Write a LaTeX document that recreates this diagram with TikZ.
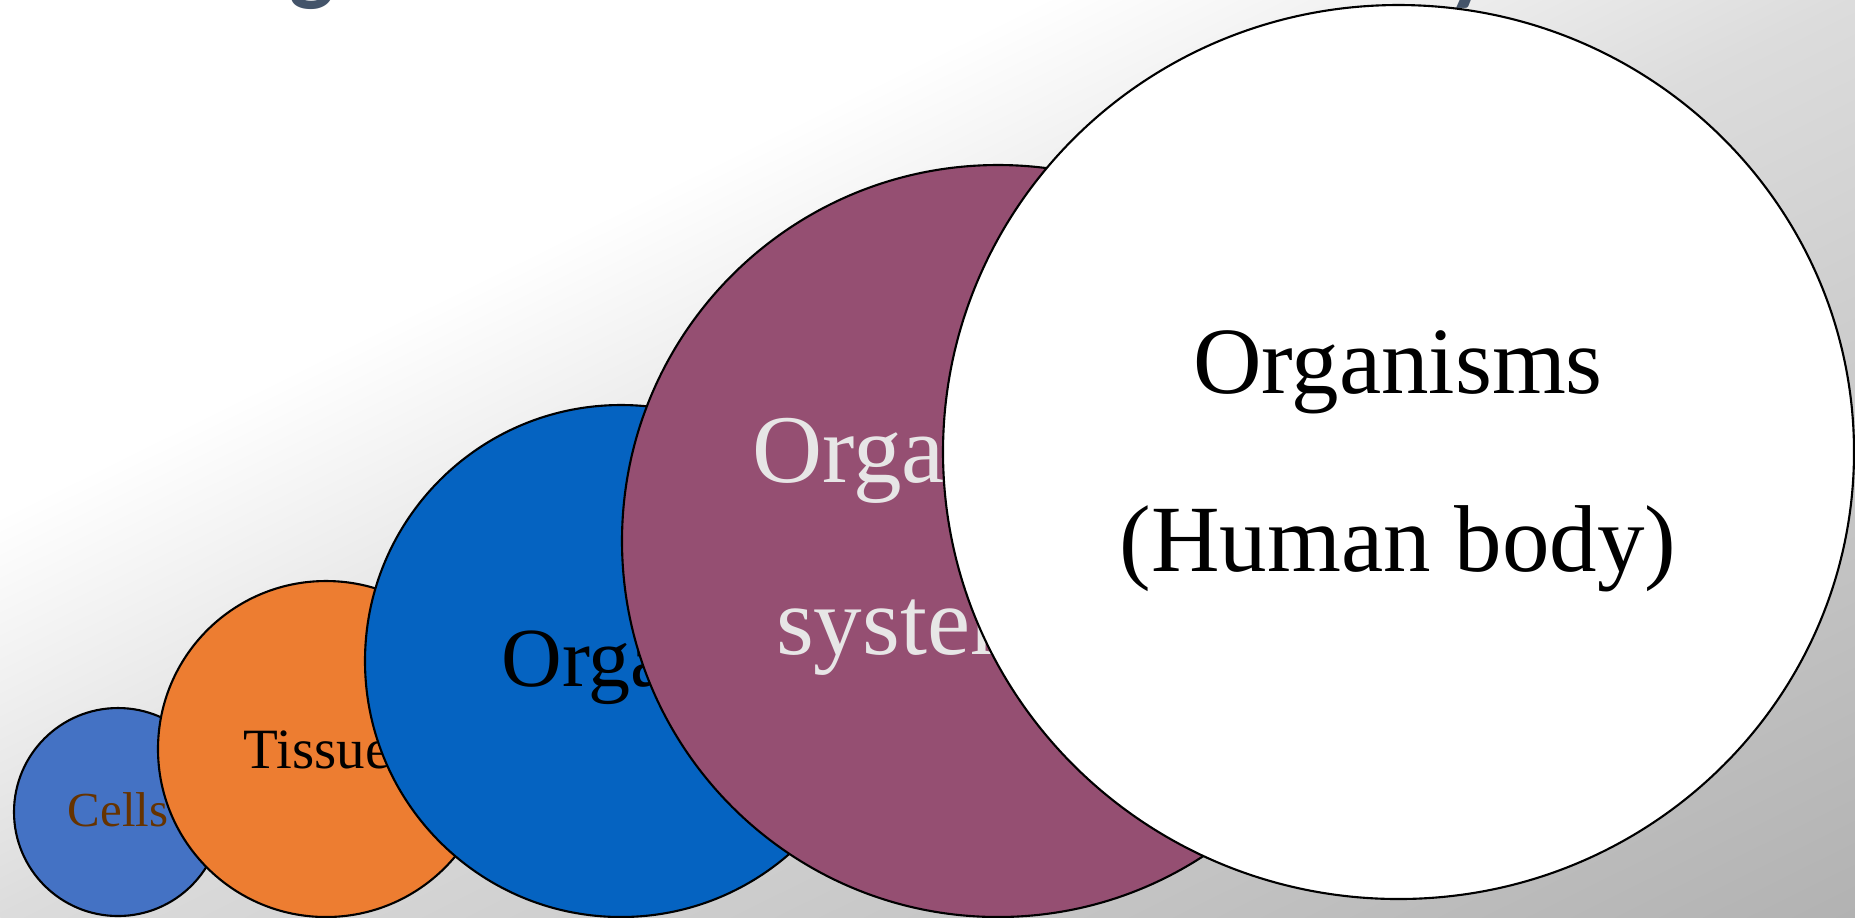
\documentclass[tikz,border=0pt]{standalone}
\usepackage{fontspec}
\setmainfont{Liberation Serif}
\newfontfamily\headfont{Carlito}
\usepackage{tikz}

\definecolor{cellblue}{HTML}{4472C4}
\definecolor{tissueorange}{HTML}{ED7D31}
\definecolor{organblue}{HTML}{0563C1}
\definecolor{systemplum}{HTML}{954F72}
\definecolor{cellbrown}{HTML}{663300}
\definecolor{systemtext}{HTML}{E7E6E6}
\definecolor{headslate}{HTML}{44546A}
\definecolor{bgmid}{HTML}{DCDCDC}
\definecolor{bgend}{HTML}{B2B2B2}
\pgfdeclarehorizontalshading{bgfade}{100bp}{color(0bp)=(white); color(39bp)=(white); color(50bp)=(bgmid); color(75bp)=(bgend); color(100bp)=(bgend)}

\tikzset{
  level/.style={draw=black, line width=0.6pt},
  lbl/.style={inner sep=0pt, anchor=base},
  head/.style={lbl, text=headslate, font=\headfont\bfseries\fontsize{27pt}{30pt}\selectfont},
}

\begin{document}
\begin{tikzpicture}[x=0.01cm, y=-0.01cm]
  \begin{scope}
    \clip (0,0) rectangle (1855,917);
    % background
    \begin{scope}[x=1cm, y=1cm, transform canvas={cm={9.275,-4.585,9.275,4.585,(0,0)}}]
      \shade[shading=bgfade] (0,-1) rectangle (2,1);
    \end{scope}
    % title, cut off at the top
    \node[head] (headg) at (312,-7) {g};
    \node[head] (heady) at (1470,-7) {y};
    % levels, small to large
    \draw[level, fill=cellblue] (118,812) circle (104);
    \node[lbl, text=cellbrown, font=\fontsize{13.9pt}{16pt}\selectfont] (cells) at (118,826) {Cells};
    \draw[level, fill=tissueorange] (326,749) circle (168);
    \node[lbl, font=\fontsize{16.2pt}{19pt}\selectfont] (tissue) at (317,768) {Tissue};
    \draw[level, fill=organblue] (621,661) circle (256);
    \node[lbl, font=\fontsize{23.9pt}{28pt}\selectfont] (organ) at (606,686) {Organ};
    \draw[level, fill=systemplum] (998,541) circle (376);
    \node[lbl, anchor=base west, align=left, text=systemtext, font=\fontsize{27.6pt}{48.8pt}\selectfont] (system) at (752,654) {Organ\\\hspace*{0.235cm}system};
    \draw[level, fill=white] (1398.5,452) ellipse [x radius=455.5, y radius=447];
    \node[lbl, align=center, font=\fontsize{27pt}{50.4pt}\selectfont] (organisms) at (1398,571) {Organisms\\(Human body)};
  \end{scope}
  \pgfresetboundingbox
  \useasboundingbox (0,0) rectangle (1855,917);
\end{tikzpicture}
\end{document}
